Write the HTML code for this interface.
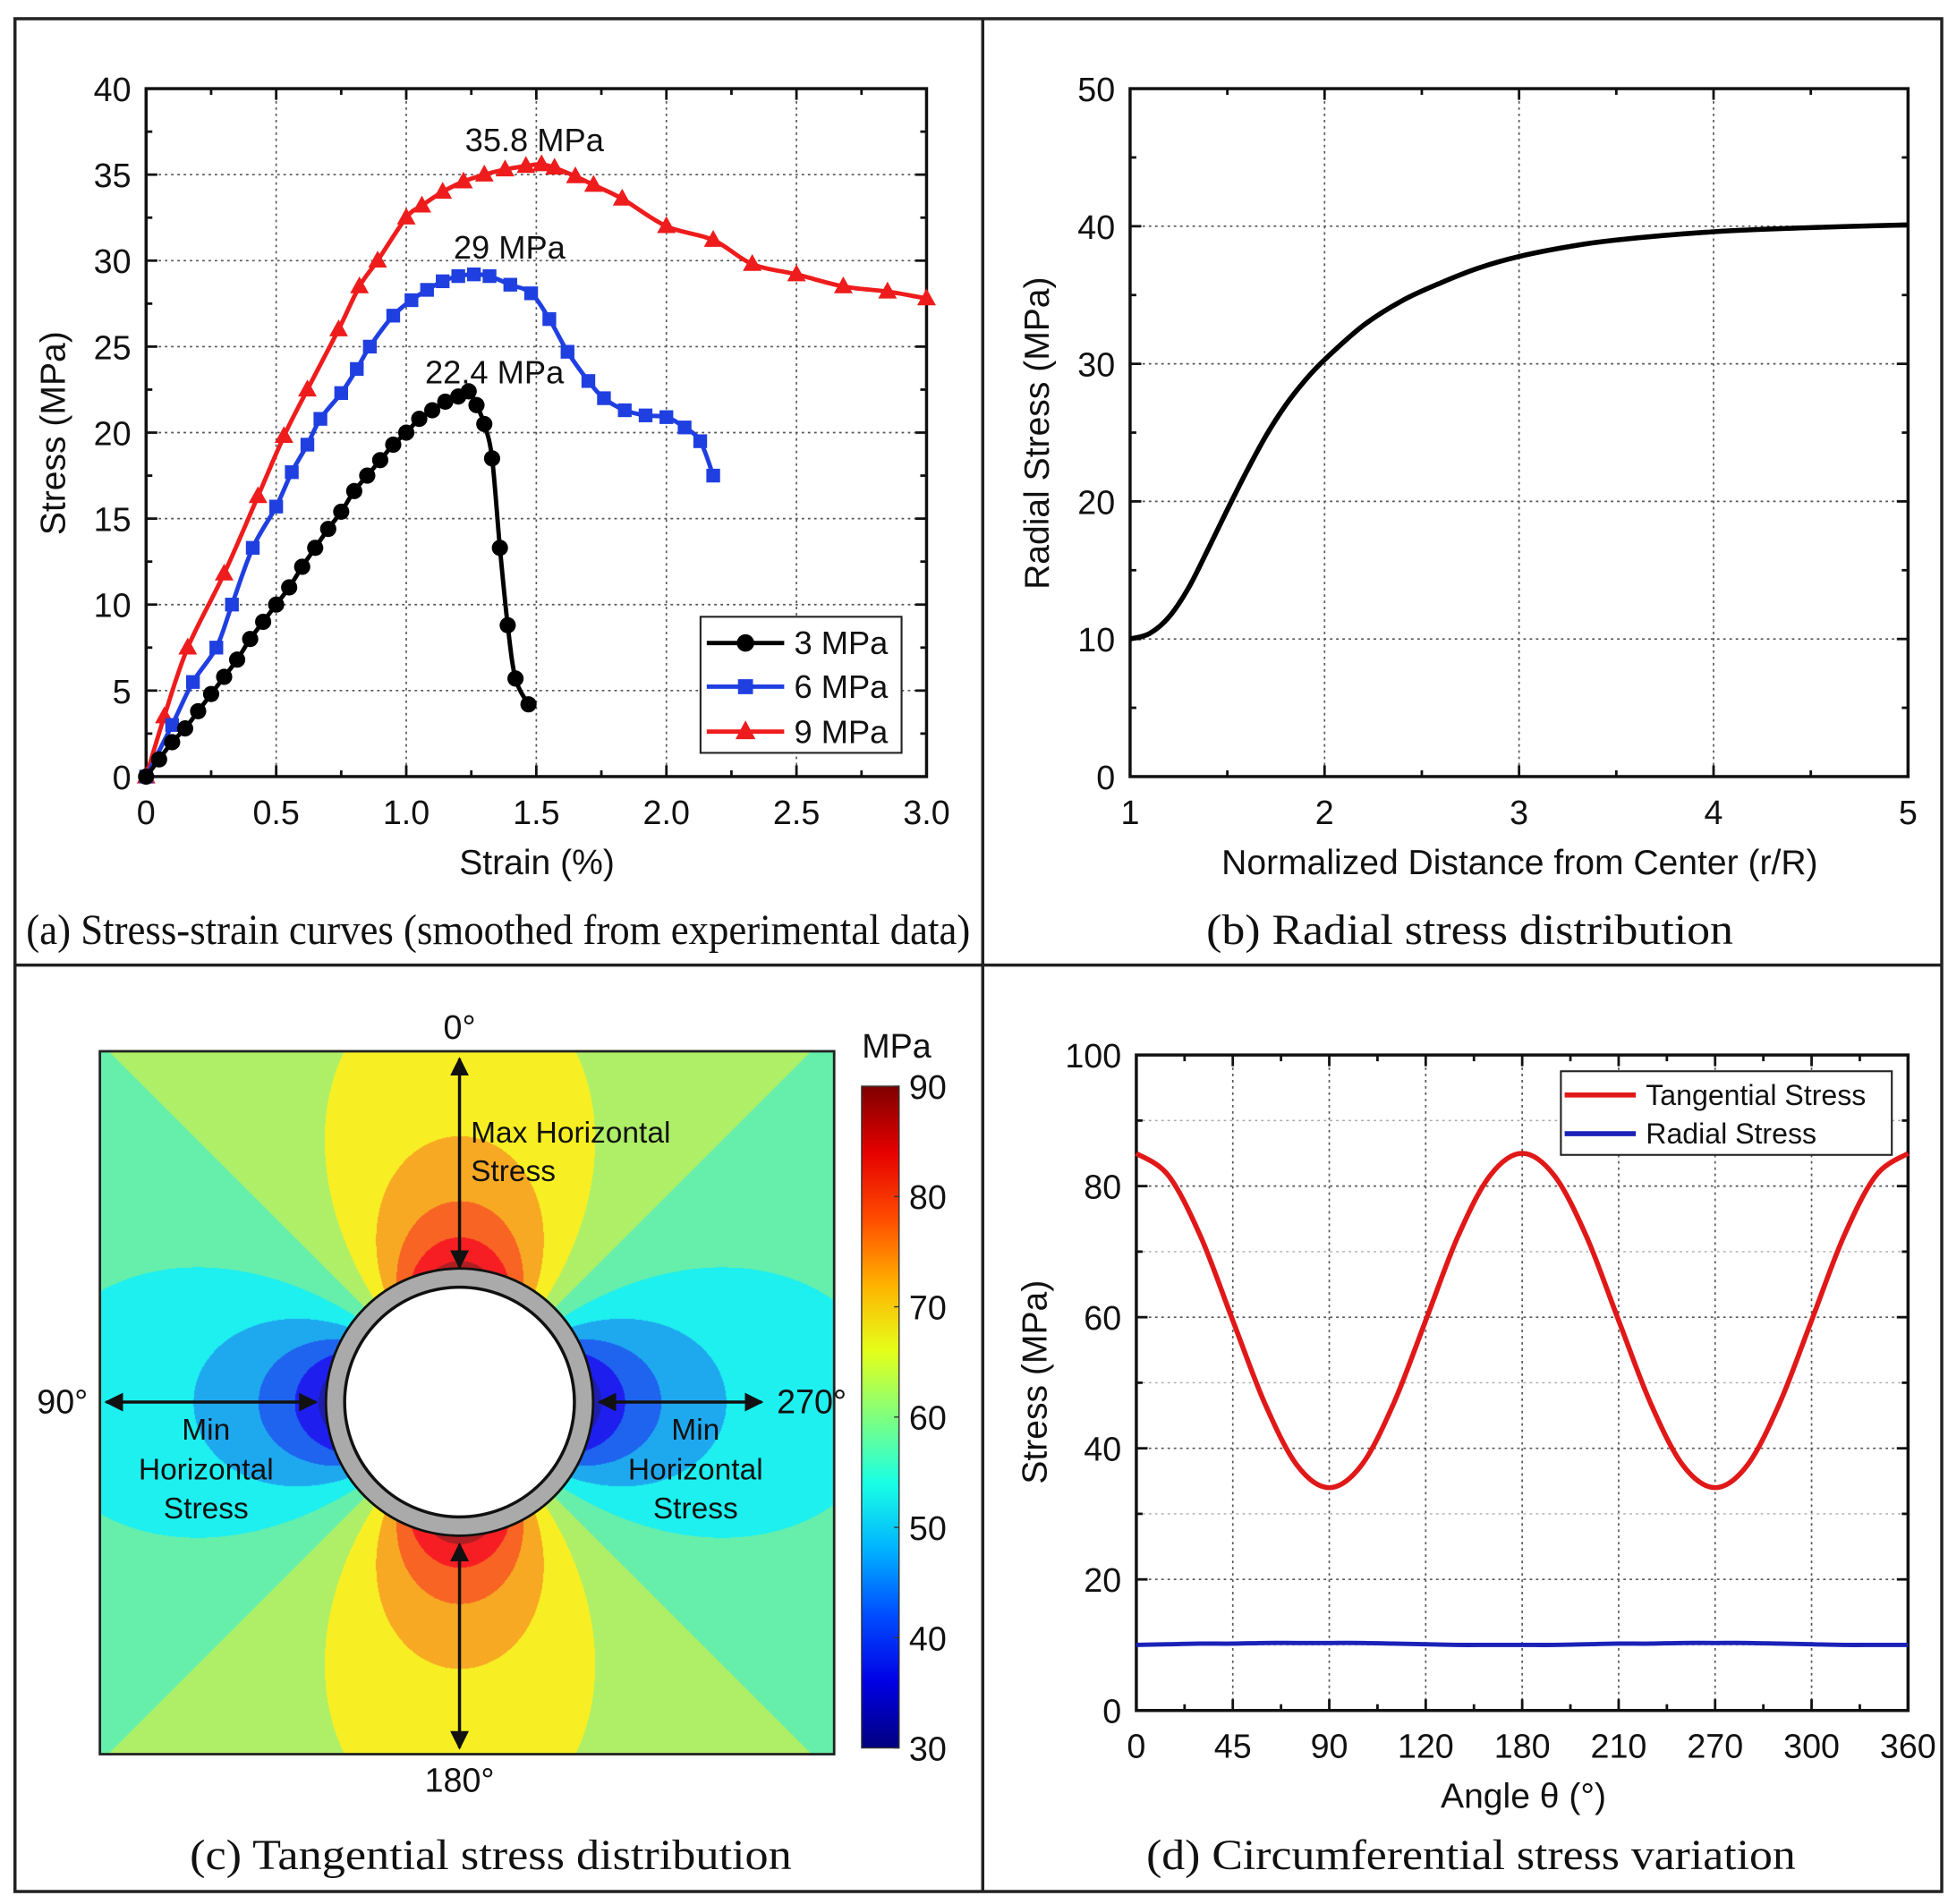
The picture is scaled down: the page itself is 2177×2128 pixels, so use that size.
<!DOCTYPE html>
<html><head><meta charset="utf-8"><style>
html,body{margin:0;padding:0;background:#fff;}
#wrap{position:relative;width:2177px;height:2128px;overflow:hidden;}
#heat{position:absolute;left:0;top:0;}
#fig{position:absolute;left:0;top:0;}
text{font-family:"Liberation Sans",sans-serif;fill:#111;}
.cap{font-family:"Liberation Serif",serif;}
</style></head><body>
<div id="wrap">
<canvas id="heat" width="2177" height="2128"></canvas>
<svg id="fig" width="2177" height="2128" viewBox="0 0 1560 1525" preserveAspectRatio="none" xmlns="http://www.w3.org/2000/svg"></svg>
</div>
<script>
// ---------- Panel (a) data ----------
const aX3 = [0,0.05,0.1,0.15,0.2,0.25,0.3,0.35,0.4,0.45,0.5,0.55,0.6,0.65,0.7,0.75,0.8,0.85,0.9,0.95,1.0,1.05,1.1,1.15,1.2,1.24,1.27,1.3,1.33,1.36,1.39,1.42,1.47];
const aY3 = [0,1,2,2.8,3.8,4.8,5.8,6.8,8,9,10,11,12.2,13.3,14.4,15.4,16.6,17.5,18.4,19.3,20,20.8,21.3,21.8,22.1,22.4,21.6,20.5,18.5,13.3,8.8,5.7,4.2];
const aX6 = [0,0.1,0.18,0.27,0.33,0.41,0.5,0.56,0.62,0.67,0.75,0.81,0.86,0.95,1.02,1.08,1.14,1.2,1.26,1.32,1.4,1.48,1.55,1.62,1.7,1.76,1.84,1.92,2.0,2.07,2.13,2.18];
const aY6 = [0,3,5.5,7.5,10,13.3,15.7,17.7,19.3,20.8,22.3,23.7,25,26.8,27.7,28.3,28.8,29.1,29.2,29.1,28.6,28.1,26.6,24.7,23,22,21.3,21,20.9,20.3,19.5,17.5];
const aX9 = [0,0.07,0.16,0.3,0.43,0.53,0.62,0.74,0.82,0.89,1.0,1.06,1.14,1.22,1.3,1.38,1.46,1.52,1.57,1.65,1.72,1.83,2.0,2.18,2.33,2.5,2.68,2.85,3.0];
const aY9 = [0,3.5,7.5,11.8,16.3,19.8,22.5,26,28.5,30,32.5,33.2,34,34.6,35,35.3,35.5,35.6,35.4,34.9,34.4,33.6,32,31.2,29.8,29.2,28.5,28.2,27.8];
const aXTicks = ["0","0.5","1.0","1.5","2.0","2.5","3.0"];
const aYTicks = ["0","5","10","15","20","25","30","35","40"];
// ---------- Panel (b) data ----------
const bR = [1,1.1,1.2,1.3,1.4,1.5,1.6,1.7,1.8,1.9,2.0,2.2,2.4,2.6,2.8,3.0,3.25,3.5,4.0,4.5,5.0];
const bS = [10,10.4,11.6,13.7,16.5,19.4,22.2,24.8,27,28.8,30.3,32.8,34.6,35.9,37,37.8,38.5,39,39.6,39.9,40.1];
const bXTicks = ["1","2","3","4","5"];
const bYTicks = ["0","10","20","30","40","50"];
// ---------- Panel (d) data ----------
const dAng = [0,15,30,45,60,75,90,105,120,135,150,165,180,195,210,225,240,255,270,285,300,315,330,345,360];
const dTan = [85,81.6,72.3,59.5,46.8,37.4,34,37.4,46.8,59.5,72.3,81.6,85,81.6,72.3,59.5,46.8,37.4,34,37.4,46.8,59.5,72.3,81.6,85];
const dRad = [10,10.1,10.2,10.2,10.3,10.3,10.3,10.3,10.2,10.1,10,10,10,10,10.1,10.2,10.2,10.3,10.3,10.3,10.2,10.1,10,10,10];
const dXTicks = ["0","45","90","120","180","210","270","300","360"];
const dYTicks = ["0","20","40","60","80","100"];
// ---------- Panel (c) colorbar ----------
const cbTicks = ["30","40","50","60","70","80","90"];

const NS="http://www.w3.org/2000/svg";
const svg=document.getElementById('fig');
function el(tag,attrs,parent){const e=document.createElementNS(NS,tag);for(const k in attrs)e.setAttribute(k,attrs[k]);(parent||svg).appendChild(e);return e;}
function txt(s,x,y,size,anchor,parent,extra){const t=el('text',Object.assign({x:x,y:y,'font-size':size,'text-anchor':anchor||'middle'},extra||{}),parent);t.textContent=s;return t;}
function smooth(p){if(p.length<2)return '';let d='M'+p[0][0]+','+p[0][1];
  for(let i=0;i<p.length-1;i++){const p0=p[i-1]||p[i],p1=p[i],p2=p[i+1],p3=p[i+2]||p2;
    const c1=[p1[0]+(p2[0]-p0[0])/6,p1[1]+(p2[1]-p0[1])/6],c2=[p2[0]-(p3[0]-p1[0])/6,p2[1]-(p3[1]-p1[1])/6];
    d+=' C'+c1[0]+','+c1[1]+' '+c2[0]+','+c2[1]+' '+p2[0]+','+p2[1];}
  return d;}

let f=el('rect',{x:12,y:15,width:1543,height:1500,fill:'none',stroke:'#222','stroke-width':2.5});

f=el('line',{x1:787,y1:15,x2:787,y2:1515,stroke:'#222','stroke-width':2.5});

f=el('line',{x1:12,y1:773,x2:1555,y2:773,stroke:'#222','stroke-width':2.5});


function axes(g,L,T,R,B,xmin,xmax,ymin,ymax,xt,xtVals,yt,ytVals,minorX,minorY,gridMinorY){
  const sx=v=>L+(v-xmin)/(xmax-xmin)*(R-L), sy=v=>B-(v-ymin)/(ymax-ymin)*(B-T);
  const grid=el('g',{},g);
  xtVals.forEach(v=>{el('line',{x1:sx(v),y1:T,x2:sx(v),y2:B,stroke:'#555','stroke-width':1.2,'stroke-dasharray':'2,3'},grid);});
  ytVals.forEach(v=>{el('line',{x1:L,y1:sy(v),x2:R,y2:sy(v),stroke:'#555','stroke-width':1.2,'stroke-dasharray':'2,3'},grid);});
  if(gridMinorY) gridMinorY.forEach(v=>{el('line',{x1:L,y1:sy(v),x2:R,y2:sy(v),stroke:'#aaa','stroke-width':1,'stroke-dasharray':'2,3'},grid);});
  const tk=el('g',{stroke:'#111','stroke-width':2},g);
  xtVals.forEach(v=>{el('line',{x1:sx(v),y1:B,x2:sx(v),y2:B-9},tk);el('line',{x1:sx(v),y1:T,x2:sx(v),y2:T+9},tk);});
  ytVals.forEach(v=>{el('line',{x1:L,y1:sy(v),x2:L+9,y2:sy(v)},tk);el('line',{x1:R,y1:sy(v),x2:R-9,y2:sy(v)},tk);});
  minorX.forEach(v=>{el('line',{x1:sx(v),y1:B,x2:sx(v),y2:B-5},tk);el('line',{x1:sx(v),y1:T,x2:sx(v),y2:T+5},tk);});
  minorY.forEach(v=>{el('line',{x1:L,y1:sy(v),x2:L+5,y2:sy(v)},tk);el('line',{x1:R,y1:sy(v),x2:R-5,y2:sy(v)},tk);});
  const xl=el('g',{},g);
  xtVals.forEach((v,i)=>txt(xt[i],sx(v),B+38,27,'middle',xl));
  const yl=el('g',{},g);
  ytVals.forEach((v,i)=>txt(yt[i],L-12,sy(v)+10,27,'end',yl));
  const fr=el('rect',{x:L,y:T,width:R-L,height:B-T,fill:'none',stroke:'#111','stroke-width':2.5},g);
  
  return {sx,sy};
}
function range(a,b,s){const r=[];for(let v=a;v<=b+1e-9;v+=s)r.push(+v.toFixed(4));return r;}

// ===== Panel (a) =====
const ga=el('g',{});
const A=axes(ga,117,71,742,622,0,3,0,40,aXTicks,aXTicks.map(Number),aYTicks,aYTicks.map(Number),range(0.25,2.75,0.5),range(2.5,37.5,5));
function series(g,xs,ys,sc,color,marker,name){
  const sg=el('g',{},g);
  const pts=xs.map((x,i)=>[sc.sx(x),sc.sy(ys[i])]);
  const pl=el('path',{d:smooth(pts),fill:'none',stroke:color,'stroke-width':3.5,'stroke-linejoin':'round'},sg);
  
  pts.forEach(p=>{const cx=p[0],cy=p[1];let m;
    if(marker==='circle')m=el('circle',{cx:cx,cy:cy,r:6.5,fill:color},sg);
    else if(marker==='square')m=el('rect',{x:cx-5.5,y:cy-5.5,width:11,height:11,fill:color},sg);
    else if(marker==='tri')m=el('polygon',{points:`${cx},${cy-8} ${cx-7.5},${cy+5.5} ${cx+7.5},${cy+5.5}`,fill:color},sg);
    if(m){}
  });
}
series(ga,aX9,aY9,A,'#ee1c1c','tri','series-9mpa');
series(ga,aX6,aY6,A,'#1f3fe0','square','series-6mpa');
series(ga,aX3,aY3,A,'#000','circle','series-3mpa');
let t;
t=txt('35.8 MPa',428,121,26,'middle',ga);
t=txt('29 MPa',408,207,26,'middle',ga);
t=txt('22.4 MPa',396,307,26,'middle',ga);
const lga=el('g',{},ga);
el('rect',{x:561,y:494,width:161,height:109,fill:'#fff',stroke:'#222','stroke-width':1.5},lga);
[['3 MPa','#000','circle',515],['6 MPa','#1f3fe0','square',550],['9 MPa','#ee1c1c','tri',586]].forEach(e=>{
  const le=el('g',{},lga);
  el('line',{x1:566,y1:e[3],x2:628,y2:e[3],stroke:e[1],'stroke-width':3.5},le);
  if(e[2]==='circle')el('circle',{cx:597,cy:e[3],r:7,fill:e[1]},le);
  else if(e[2]==='square')el('rect',{x:591,y:e[3]-6,width:12,height:12,fill:e[1]},le);
  else el('polygon',{points:`597,${e[3]-9} 589,${e[3]+6} 605,${e[3]+6}`,fill:e[1]},le);
  txt(e[0],636,e[3]+9,26,'start',le);
});
t=txt('Strain (%)',430,700,28,'middle',ga);
t=txt('Stress (MPa)',0,0,28,'middle',ga,{transform:'translate(52,347) rotate(-90)'});
t=txt('(a) Stress-strain curves (smoothed from experimental data)',399,756,34,'middle',ga,{class:'cap',textLength:756,lengthAdjust:'spacingAndGlyphs'});

// ===== Panel (b) =====
const gb=el('g',{});
const B=axes(gb,905,71,1528,622,1,5,0,50,bXTicks,bXTicks.map(Number),bYTicks,bYTicks.map(Number),range(1.5,4.5,1),range(5,45,10));
let pb=el('path',{d:smooth(bR.map((r,i)=>[B.sx(r),B.sy(bS[i])])),fill:'none',stroke:'#000','stroke-width':4,'stroke-linejoin':'round'},gb);

t=txt('Normalized Distance from Center (r/R)',1217,700,28,'middle',gb);
t=txt('Radial Stress (MPa)',0,0,28,'middle',gb,{transform:'translate(840,347) rotate(-90)'});
t=txt('(b) Radial stress distribution',1177,756,34,'middle',gb,{class:'cap',textLength:422,lengthAdjust:'spacingAndGlyphs'});

// ===== Panel (d) =====
const gd=el('g',{});
const D=axes(gd,910,845,1528,1370,0,360,0,100,dXTicks,range(0,360,45),dYTicks,dYTicks.map(Number),range(22.5,337.5,45),range(10,90,20),range(10,90,20));
let pt=el('path',{d:smooth(dAng.map((a,i)=>[D.sx(a),D.sy(dTan[i])])),fill:'none',stroke:'#e01818','stroke-width':4,'stroke-linejoin':'round'},gd);

let pr=el('path',{d:smooth(dAng.map((a,i)=>[D.sx(a),D.sy(dRad[i])])),fill:'none',stroke:'#1a22b8','stroke-width':3.5},gd);

const lgd=el('g',{},gd);
el('rect',{x:1250,y:858,width:265,height:67,fill:'#fff',stroke:'#222','stroke-width':1.5},lgd);
[['Tangential Stress','#e01818',877],['Radial Stress','#1a22b8',908]].forEach(e=>{
  const le=el('g',{},lgd);
  el('line',{x1:1253,y1:e[2],x2:1310,y2:e[2],stroke:e[1],'stroke-width':4},le);
  txt(e[0],1318,e[2]+8,23,'start',le);
});
t=txt('Angle θ (°)',1220,1448,28,'middle',gd);
t=txt('Stress (MPa)',0,0,28,'middle',gd,{transform:'translate(838,1107) rotate(-90)'});
t=txt('(d) Circumferential stress variation',1178,1497,34,'middle',gd,{class:'cap',textLength:520,lengthAdjust:'spacingAndGlyphs'});

// ===== Panel (c) =====
const S=2177/1560, SY=2128/1525;
function jet(v){v=Math.max(0,Math.min(1,v));const r=Math.max(0,Math.min(1,1.5-Math.abs(4*v-3))),g=Math.max(0,Math.min(1,1.5-Math.abs(4*v-2))),b=Math.max(0,Math.min(1,1.5-Math.abs(4*v-1)));return [r*255|0,g*255|0,b*255|0];}
function soft(c){return [Math.round(c[0]*0.85+30),Math.round(c[1]*0.82+30),Math.round(c[2]*0.8+35)];}
const cv=document.getElementById('heat'),ctx=cv.getContext('2d');
const hx0=Math.round(80*S),hy0=Math.round(842*SY),hx1=Math.round(668*S),hy1=Math.round(1405*SY);
const ccx=368*S,ccy=1123*SY,ca=100*S;
const img=ctx.createImageData(hx1-hx0,hy1-hy0);
for(let y=hy0;y<hy1;y++)for(let x=hx0;x<hx1;x++){
  const dx=x-ccx,dy=y-ccy;let r=Math.sqrt(dx*dx+dy*dy);if(r<ca)r=ca;
  const c2=(dy*dy-dx*dx)/(dx*dx+dy*dy||1);
  let v=60+30*c2*Math.pow(ca/r,1.45);
  v=Math.floor(v/5)*5+2.5;
  const col=soft(jet((v-30)/60));const k=((y-hy0)*(hx1-hx0)+(x-hx0))*4;
  img.data[k]=col[0];img.data[k+1]=col[1];img.data[k+2]=col[2];img.data[k+3]=255;
}
ctx.putImageData(img,hx0,hy0);
const gc=el('g',{});
let hb=el('rect',{x:80,y:842,width:588,height:563,fill:'none',stroke:'#222','stroke-width':2},gc);

let ring=el('circle',{cx:368,cy:1123,r:100,fill:'#fff',stroke:'#aaa','stroke-width':15},gc);

el('circle',{cx:368,cy:1123,r:107,fill:'none',stroke:'#111','stroke-width':2},gc);
let hole=el('circle',{cx:368,cy:1123,r:92,fill:'#fff',stroke:'#111','stroke-width':2.5},gc);

const defs=el('defs',{});
const mk=el('marker',{id:'ah',viewBox:'0 0 10 10',refX:9,refY:5,markerWidth:6,markerHeight:6,orient:'auto-start-reverse'},defs);
el('path',{d:'M0,0 L10,5 L0,10 z',fill:'#111'},mk);
[[368,848,368,1015,'arrow-max-top'],[368,1237,368,1400,'arrow-max-bottom'],[85,1123,253,1123,'arrow-min-left'],[480,1123,610,1123,'arrow-min-right']].forEach(a=>{
  const l=el('line',{x1:a[0],y1:a[1],x2:a[2],y2:a[3],stroke:'#111','stroke-width':2.5,'marker-start':'url(#ah)','marker-end':'url(#ah)'},gc);
  
});
[['0°',368,832,'middle'],['180°',368,1435,'middle'],['90°',50,1132,'middle'],['270°',650,1132,'middle']].forEach(a=>{
  t=txt(a[0],a[1],a[2],27,a[3],gc);
});
t=txt('Max Horizontal',377,915,24,'start',gc);
txt('Stress',377,946,24,'start',gc);
[165,557].forEach(cx=>{
  const g=el('g',{},gc);
  txt('Min',cx,1153,24,'middle',g);txt('Horizontal',cx,1185,24,'middle',g);txt('Stress',cx,1216,24,'middle',g);
});
const lg=el('linearGradient',{id:'jetg',x1:0,y1:1,x2:0,y2:0},defs);
for(let i=0;i<=10;i++){const c=jet(i/10);el('stop',{offset:i/10,'stop-color':`rgb(${c[0]},${c[1]},${c[2]})`},lg);}
const cb=el('g',{},gc);
el('rect',{x:690,y:870,width:30,height:530,fill:'url(#jetg)',stroke:'#333','stroke-width':1},cb);
const cbY=v=>1400-(v-30)/60*530;
cbTicks.forEach(s=>{el('line',{x1:716,y1:cbY(+s),x2:720,y2:cbY(+s),stroke:'#333','stroke-width':1},cb);txt(s,728,cbY(+s)+10,27,'start',cb);});
t=txt('MPa',718,847,27,'middle',cb);
t=txt('(c) Tangential stress distribution',393,1497,34,'middle',gc,{class:'cap',textLength:482,lengthAdjust:'spacingAndGlyphs'});
</script>
</body></html>
